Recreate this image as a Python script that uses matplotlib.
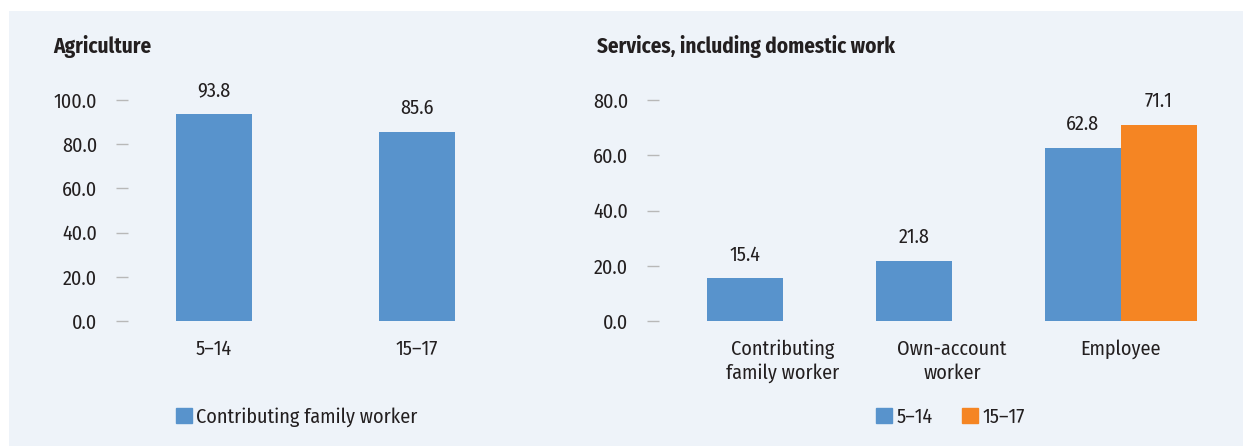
import numpy as np
import matplotlib
matplotlib.use("Agg")
import matplotlib.pyplot as plt
from matplotlib.patches import Rectangle, Patch

# ---- data ----
agri_categories = ["5\u201314", "15\u201317"]
agri_values = [93.8, 85.6]
agri_ticks = [0, 20, 40, 60, 80, 100]

serv_categories = ["Contributing\nfamily worker", "Own-account\nworker", "Employee"]
serv_5_14 = [15.4, 21.8, 62.8]
serv_15_17 = [np.nan, np.nan, 71.1]
serv_ticks = [0, 20, 40, 60, 80]

# ---- style ----
FONT = ["Fira Sans Condensed", "DejaVu Sans"]
plt.rcParams["font.family"] = FONT
TEXT = "#231f20"
BG = "#eef3f9"
BLUE = "#5893cc"
ORANGE = "#f58523"
FS = 14.5
FS_TITLE = 15.2

W, H = 1243, 446
fig = plt.figure(figsize=(W / 100, H / 100), dpi=100, facecolor="white")
fig.patches.append(Rectangle((9 / W, 0), 1 - 9 / W, 1 - 11 / H,
                             transform=fig.transFigure, facecolor=BG,
                             edgecolor="none", zorder=-10))


def px_axes(left, right, top, bottom):
    return fig.add_axes([left / W, 1 - bottom / H, (right - left) / W, (bottom - top) / H])


def style_axes(ax, ticks):
    ax.set_facecolor("none")
    for s in ax.spines.values():
        s.set_visible(False)
    ax.set_yticks(ticks)
    ax.set_yticklabels([f"{t:.1f}" for t in ticks])
    ax.tick_params(axis="y", length=8.6, width=1, color="#b8b8b8",
                   pad=13.5, labelsize=FS, labelcolor=TEXT)
    ax.tick_params(axis="x", length=0, pad=13, labelsize=FS, labelcolor=TEXT)


# ---- Agriculture panel ----
ax1 = px_axes(128, 503, 78, 321)
x1 = np.arange(len(agri_categories))
ax1.bar(x1, agri_values, width=0.374, color=BLUE,
        label="Contributing family worker")
ax1.set_xlim(-0.424, 1.424)
ax1.set_ylim(0, 110)
style_axes(ax1, agri_ticks)
ax1.set_xticks(x1)
ax1.set_xticklabels(agri_categories)
for xi, v in zip(x1, agri_values):
    ax1.annotate(f"{v:.1f}", (xi, v), xytext=(0, 10), textcoords="offset points",
                 ha="center", va="bottom", fontsize=FS, color=TEXT)

fig.text(53 / W, 1 - 47 / H, "Agriculture", fontsize=FS_TITLE, fontweight="bold",
         color=TEXT, ha="left", va="center")
fig.legend(handles=[Patch(color=BLUE, label="Contributing family worker")],
           loc="center left", bbox_to_anchor=(176 / W, 1 - 417 / H),
           frameon=False, fontsize=FS, handlelength=0.78, handleheight=0.78,
           handletextpad=0.22, borderpad=0, borderaxespad=0, labelcolor=TEXT)

# ---- Services panel ----
ax2 = px_axes(659, 1235, 78, 321)
x2 = np.arange(len(serv_categories))
bw = 0.45
ax2.bar(x2 - bw / 2, serv_5_14, width=bw, color=BLUE, label="5\u201314")
ax2.bar(x2 + bw / 2, serv_15_17, width=bw, color=ORANGE, label="15\u201317")
ax2.set_xlim(-0.734, 2.675)
ax2.set_ylim(0, 88)
style_axes(ax2, serv_ticks)
ax2.set_xticks(x2)
ax2.set_xticklabels(serv_categories, linespacing=1.3)
for xi, v in zip(x2, serv_5_14):
    if not np.isnan(v):
        ax2.annotate(f"{v:.1f}", (xi - bw / 2, v), xytext=(0, 10),
                     textcoords="offset points", ha="center", va="bottom",
                     fontsize=FS, color=TEXT)
for xi, v in zip(x2, serv_15_17):
    if not np.isnan(v):
        ax2.annotate(f"{v:.1f}", (xi + bw / 2, v), xytext=(0, 10),
                     textcoords="offset points", ha="center", va="bottom",
                     fontsize=FS, color=TEXT)

fig.text(597 / W, 1 - 47 / H, "Services, including domestic work", fontsize=FS_TITLE,
         fontweight="bold", color=TEXT, ha="left", va="center")
fig.legend(handles=[Patch(color=BLUE, label="5\u201314"),
                    Patch(color=ORANGE, label="15\u201317")],
           loc="center left", bbox_to_anchor=(876 / W, 1 - 417 / H), ncol=2,
           frameon=False, fontsize=FS, handlelength=0.78, handleheight=0.78,
           handletextpad=0.22, columnspacing=1.5, borderpad=0, borderaxespad=0,
           labelcolor=TEXT)

fig.savefig("out.png", dpi=100, facecolor="white")
